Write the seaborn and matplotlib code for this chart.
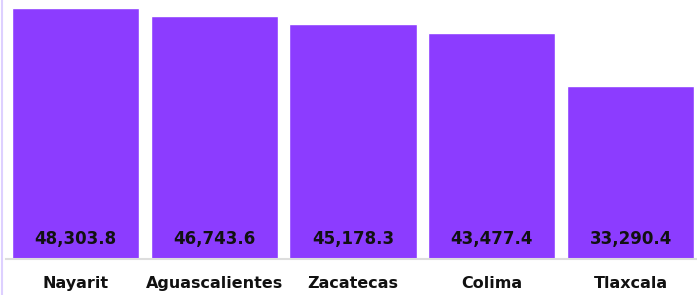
import matplotlib
matplotlib.use("Agg")
import matplotlib.pyplot as plt
import seaborn as sns
import pandas as pd

# data
estados = ["Nayarit", "Aguascalientes", "Zacatecas", "Colima", "Tlaxcala"]
valores = [48303.8, 46743.6, 45178.3, 43477.4, 33290.4]
etiquetas = ["48,303.8", "46,743.6", "45,178.3", "43,477.4", "33,290.4"]

df = pd.DataFrame({"estado": estados, "valor": valores})

sns.set_style("white")
plt.rcParams["font.family"] = ["DejaVu Sans"]

fig = plt.figure(figsize=(6.97, 2.95), dpi=100)
ax = fig.add_axes([6 / 697, 36 / 295, 694 / 697, 259 / 295])

sns.barplot(data=df, x="estado", y="valor", color="#8c3cff", saturation=1,
            width=0.915, ax=ax)

for i, txt in enumerate(etiquetas):
    ax.annotate(txt, xy=(i, 0), xytext=(0, 8), textcoords="offset points",
                ha="center", va="bottom", fontsize=12, fontweight="bold",
                color="#111111")

ax.set_xlim(-0.5, 4.5)
ax.set_ylim(0, 49843)
ax.set_xlabel("")
ax.set_ylabel("")
ax.set_yticks([])
ax.tick_params(axis="x", length=0, pad=12)
for lab in ax.get_xticklabels():
    lab.set_fontweight("bold")
    lab.set_fontsize(11.5)
    lab.set_color("#111111")

for s in ["top", "right", "left"]:
    ax.spines[s].set_visible(False)
ax.spines["bottom"].set_color("#dddddd")
ax.spines["bottom"].set_linewidth(1.5)

# thin lavender line on the left edge
fig.add_artist(plt.Line2D([1.5 / 697, 1.5 / 697], [0, 1], color="#ddd0ff",
                          linewidth=1.5, transform=fig.transFigure))

fig.savefig("out.png", dpi=100)
